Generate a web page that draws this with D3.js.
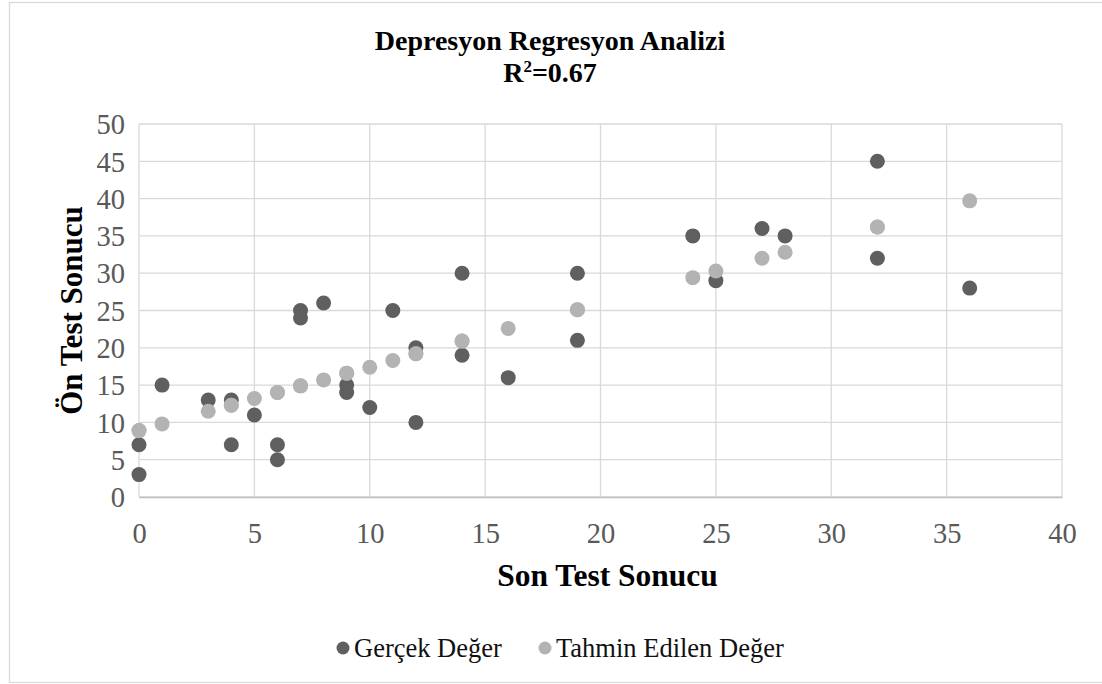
<!DOCTYPE html>
<html>
<head>
<meta charset="utf-8">
<script src="https://d3js.org/d3.v7.min.js"></script>
<style>
    body { margin: 0; background: #fff; }
    svg { display: block; font-family: "Liberation Serif", "Times New Roman", serif; }
    .grid line { stroke: #d9d9d9; stroke-width: 1.3; }
    .axis text { fill: #595959; font-size: 28.5px; font-family: "Liberation Serif", "Times New Roman", serif; }
</style>
</head>
<body>
<script>

    // son test sonucu (x)
    var sonTest = [0, 0, 1, 3, 4, 4, 5, 6, 6, 7, 7, 8, 9, 9, 10, 11, 12, 12, 14, 14, 16, 19, 19, 24, 25, 27, 28, 32, 32, 36];
    // gercek deger - on test sonucu
    var gercek = [7, 3, 15, 13, 13, 7, 11, 7, 5, 25, 24, 26, 15, 14, 12, 25, 20, 10, 30, 19, 16, 30, 21, 35, 29, 36, 35, 45, 32, 28];
    // tahmin edilen deger
    var tahmin = [8.9, 8.9, 9.8, 11.5, 12.3, 12.3, 13.2, 14.0, 14.0, 14.9, 14.9, 15.7, 16.6, 16.6, 17.4, 18.3, 19.2, 19.2, 20.9, 20.9, 22.6, 25.1, 25.1, 29.4, 30.3, 32.0, 32.8, 36.2, 36.2, 39.7];

    var xTicks = [0, 5, 10, 15, 20, 25, 30, 35, 40];
    var yTicks = [0, 5, 10, 15, 20, 25, 30, 35, 40, 45, 50];

    var seriesNames = ["Gerçek Değer", "Tahmin Edilen Değer"];
    var colors = ["#5f5f5f", "#b3b3b3"];

    var W = 1102, H = 684;
    var margin = { top: 124, right: 40, bottom: 187, left: 139 };
    var width = W - margin.left - margin.right,
        height = H - margin.top - margin.bottom;

    var svg = d3.select("body").append("svg")
        .attr("width", W)
        .attr("height", H);

    // outer chart border
    svg.append("rect")
        .attr("x", 9.5).attr("y", 2.5)
        .attr("width", W + 10).attr("height", H - 4)
        .attr("fill", "none")
        .attr("stroke", "#d9d9d9")
        .attr("stroke-width", 1.3);

    var g = svg.append("g")
        .attr("transform", "translate(" + margin.left + "," + margin.top + ")");

    var xScale = d3.scaleLinear().domain([0, 40]).range([0, width]);
    var yScale = d3.scaleLinear().domain([0, 50]).range([height, 0]);

    // grid
    g.append("g").attr("class", "grid")
        .selectAll("line.h").data(yTicks).enter().append("line")
        .attr("x1", 0).attr("x2", width)
        .attr("y1", function (d) { return yScale(d); })
        .attr("y2", function (d) { return yScale(d); });

    g.append("g").attr("class", "grid")
        .selectAll("line.v").data(xTicks).enter().append("line")
        .attr("y1", 0).attr("y2", height)
        .attr("x1", function (d) { return xScale(d); })
        .attr("x2", function (d) { return xScale(d); });

    var xAxis = d3.axisBottom(xScale).tickValues(xTicks).tickSize(0).tickPadding(46);
    var yAxis = d3.axisLeft(yScale).tickValues(yTicks).tickSize(0).tickPadding(14);

    var gx = g.append("g")
        .attr("class", "x axis")
        .attr("transform", "translate(0," + height + ")")
        .call(xAxis)
        .attr("font-family", null).attr("font-size", null);
    gx.select(".domain").attr("stroke", "#bfbfbf").attr("stroke-width", 1.3);
    gx.selectAll("text").attr("dy", 0);

    var gy = g.append("g")
        .attr("class", "y axis")
        .call(yAxis)
        .attr("font-family", null).attr("font-size", null);
    gy.select(".domain").remove();
    gy.selectAll("text").attr("dy", "0.34em");

    // points
    var pts = sonTest.map(function (x, i) { return { x: x, gercek: gercek[i], tahmin: tahmin[i] }; });

    g.append("g").selectAll("circle").data(pts).enter().append("circle")
        .attr("cx", function (d) { return xScale(d.x); })
        .attr("cy", function (d) { return yScale(d.gercek); })
        .attr("r", 7.5)
        .style("fill", colors[0]);

    g.append("g").selectAll("circle").data(pts).enter().append("circle")
        .attr("cx", function (d) { return xScale(d.x); })
        .attr("cy", function (d) { return yScale(d.tahmin); })
        .attr("r", 7.5)
        .style("fill", colors[1]);

    // titles
    var title = svg.append("text")
        .attr("x", 550).attr("y", 50)
        .attr("text-anchor", "middle")
        .style("font-size", "28px").style("font-weight", "bold").style("fill", "#000");
    title.append("tspan").attr("x", 550).text("Depresyon Regresyon Analizi");
    var t2 = title.append("tspan").attr("x", 550).attr("dy", 32).text("R");
    t2.append("tspan").attr("dy", -10).style("font-size", "17px").text("2");
    t2.append("tspan").attr("dy", 10).text("=0.67");

    svg.append("text")
        .attr("x", margin.left + width / 2 + 7).attr("y", 586)
        .attr("text-anchor", "middle")
        .style("font-size", "31.5px").style("font-weight", "bold")
        .text("Son Test Sonucu");

    svg.append("text")
        .attr("transform", "translate(82," + (margin.top + height / 2) + ") rotate(-90)")
        .attr("text-anchor", "middle")
        .style("font-size", "31px").style("font-weight", "bold")
        .text("Ön Test Sonucu");

    // legend
    var legendX = [343, 545];
    var legend = svg.selectAll(".legend").data(seriesNames).enter().append("g")
        .attr("class", "legend")
        .attr("transform", function (d, i) { return "translate(" + legendX[i] + ",648)"; });

    legend.append("circle")
        .attr("r", 6.5)
        .style("fill", function (d, i) { return colors[i]; });

    legend.append("text")
        .attr("x", 11).attr("dy", "0.34em")
        .style("font-size", "26.5px").style("fill", "#111")
        .text(function (d) { return d; });

</script>
</body>
</html>
